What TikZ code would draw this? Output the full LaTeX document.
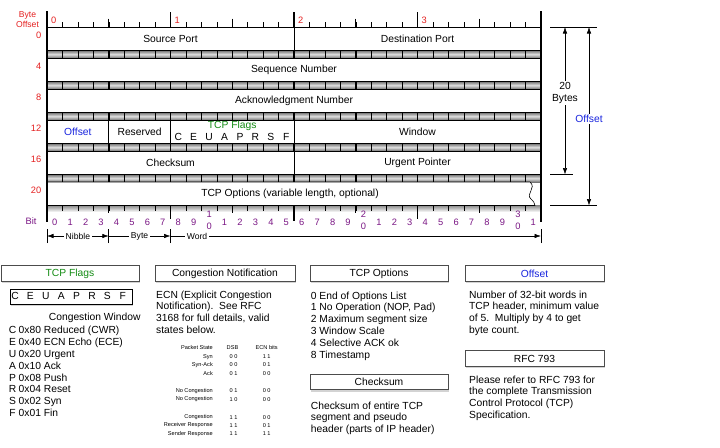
\documentclass[tikz,border=0pt]{standalone}
\usepackage{fontspec}
\setmainfont{Liberation Sans}
\usetikzlibrary{arrows.meta,shadows}

\definecolor{hdrred}{RGB}{228,32,32}
\definecolor{hdrblue}{RGB}{24,36,222}
\definecolor{hdrgreen}{RGB}{20,140,20}
\definecolor{bitpurple}{RGB}{122,22,132}

\newcommand{\fieldfnt}{\fontsize{10.3}{11.8}\selectfont}
\newcommand{\rulerfnt}{\fontsize{9.3}{10}\selectfont}
\newcommand{\dimfnt}{\fontsize{8.6}{9.5}\selectfont}
\newcommand{\tblfnt}{\fontsize{5.6}{6}\selectfont}

\tikzset{
  field/.style={draw, fill=white, line width=0.6pt, minimum height=23.5, inner sep=0pt, outer sep=0pt, font=\fieldfnt},
  txt/.style={inner sep=0pt, font=\fieldfnt, text height=7.4pt, text depth=2.1pt},
  bytenum/.style={inner sep=0pt, font=\rulerfnt, text=hdrred},
  bitnum/.style={inner sep=0pt, font=\rulerfnt, text=bitpurple, align=center},
  panelhead/.style={draw=black!70, fill=white, line width=0.7pt, minimum height=15.5, inner sep=0pt, font=\fieldfnt,
    drop shadow={shadow xshift=0.6pt, shadow yshift=-2.2pt, opacity=0.35}},
  paneltext/.style={anchor=north west, inner sep=0pt, align=left, font=\fieldfnt},
  tbl/.style={inner sep=0pt, font=\tblfnt},
  dimline/.style={line width=0.6pt},
  dimarrow/.style={line width=0.6pt, {Latex[length=6.5pt,width=4.5pt]}-{Latex[length=6.5pt,width=4.5pt]}},
  endarrow/.style={line width=0.6pt, -{Latex[length=6.5pt,width=4.5pt]}},
  band/.style={top color=black!55, bottom color=black!55, middle color=black!12},
}

\begin{document}
\begin{tikzpicture}[x=1pt,y=-1pt]
\useasboundingbox (0,0) rectangle (720,447);

% shaded bands between the rows
\foreach \k in {0,...,4}{
  \shade[band] (47,{50.5+31*\k}) rectangle (541,{58+31*\k});
  \foreach \i in {1,...,31} \draw[line width=0.5pt] ({47+\i*15.4375},{50.5+31*\k}) -- ++(0,7.5);
  \foreach \i in {4,8,...,28} \draw[line width=1.3pt] ({47+\i*15.4375},{50.5+31*\k}) -- ++(0,7.5);
}
\shade[top color=black!45, bottom color=white] (47,205.5) rectangle (541,212);

% header fields
\node[field, minimum width=247] (srcport) at (170.5,38.75) {Source Port};
\node[field, minimum width=247] (dstport) at (417.5,38.75) {Destination Port};
\node[field, minimum width=494] (seqnum) at (294,69.75) {Sequence Number};
\node[field, minimum width=494] (acknum) at (294,100.75) {Acknowledgment Number};
\node[field, minimum width=61.75] (offset) at (77.875,131.75) {\color{hdrblue}Offset};
\node[field, minimum width=61.75] (reserved) at (139.625,131.75) {Reserved};
\node[field, minimum width=123.5] (flags) at (232.25,131.75) {};
\node[field, minimum width=247] (window) at (417.5,131.75) {Window};
\node[field, minimum width=247] (checksum) at (170.5,162.75) {Checksum};
\node[field, minimum width=247] (urgent) at (417.5,162.75) {Urgent Pointer};
\draw[line width=0.6pt, fill=white] (47,182) -- (530,182) .. controls (537,188) and (525,194) .. (531,199)
  .. controls (534,202) .. (535,205.5) -- (47,205.5) -- cycle;
\node[txt] (options) at (290,193.75) {TCP Options (variable length, optional)};

\node[txt, text=hdrgreen] (flagstitle) at (232.25,126) {TCP Flags};
\foreach \fl [count=\i from 0] in {C,E,U,A,P,R,S,F}
  \node[txt] (rowflag\i) at ({170.5+(\i+0.5)*15.4375},137.5) {\fl};

% top ruler
\foreach \i in {1,...,31} \draw[line width=0.5pt] ({47+\i*15.4375},22) -- ({47+\i*15.4375},27);
\foreach \i in {4,12,20,28} \draw[line width=1.2pt] ({47+\i*15.4375},18.5) -- ({47+\i*15.4375},27);
\foreach \i in {8,24} \draw[line width=1.8pt] ({47+\i*15.4375},12) -- ({47+\i*15.4375},27);
\draw[line width=2.2pt] (294,12) -- (294,27);
\foreach \j in {0,...,3}
  \node[bytenum, anchor=west] (byte\j) at ({51+123.5*\j},20) {\j};

% bottom ruler
\foreach \i in {1,...,31} \draw[line width=0.5pt] ({47+\i*15.4375},205.5) -- ({47+\i*15.4375},210.5);
\foreach \i in {4,12,20,28} \draw[line width=1.2pt] ({47+\i*15.4375},205.5) -- ({47+\i*15.4375},212.5);
\foreach \i in {8,24} \draw[line width=1.8pt] ({47+\i*15.4375},205.5) -- ({47+\i*15.4375},219);
\draw[line width=2.2pt] (294,205.5) -- (294,221);
\draw[line width=2.2pt] (47,11) -- (47,222);
\draw[line width=2.2pt] (541,11) -- (541,222);

\foreach \i in {0,...,31}{
  \pgfmathtruncatemacro\dg{mod(\i,10)}
  \pgfmathtruncatemacro\tn{\i/10}
  \ifnum\dg=0 \ifnum\i>0
    \node[bitnum] (bit\i) at ({47+(\i+0.5)*15.4375},220) {\tn\\[2pt]0};
  \else
    \node[bitnum] (bit\i) at ({47+(\i+0.5)*15.4375},222) {\dg};
  \fi\else
    \node[bitnum] (bit\i) at ({47+(\i+0.5)*15.4375},222) {\dg};
  \fi
}
\node[bitnum] (bitlabel) at (31,221) {Bit};

% byte offsets
\node[bytenum, align=center, font=\dimfnt] (byteofs) at (27.5,19.5) {Byte\\Offset};
\foreach \o [count=\k from 0] in {0,4,8,12,16,20}
  \node[bytenum, anchor=east] (ofs\o) at (41.5,{35+31*\k}) {\o};

% nibble / byte / word
\foreach \x [count=\n] in {47,108.75,170.5,541}
  \coordinate (unit\n) at (\x,236);
\foreach \n in {1,...,4}
  \draw[dimline] ([yshift=-7pt]unit\n) -- ([yshift=7pt]unit\n);
\draw[dimarrow] (unit1) -- (unit2);
\draw[endarrow] (unit2) -- (unit3);
\draw[endarrow] (unit3) -- (unit4);
\node[fill=white, inner sep=1.5pt, font=\dimfnt] (nibble) at (77.9,236) {Nibble};
\node[fill=white, inner sep=1.5pt, font=\dimfnt] (byte) at (139.6,236) {Byte};
\node[fill=white, inner sep=1.5pt, font=\dimfnt] (word) at (197,236) {Word};

% size markers on the right
\coordinate (hdrtop) at (550,27);
\coordinate (hdrend) at (550,174.5);
\coordinate (optend) at (550,205.5);
\draw[dimline] (hdrtop) -- ++(47,0);
\draw[dimline] (hdrend) -- ++(23,0);
\draw[dimline] (optend) -- ++(47,0);
\draw[dimarrow] ([xshift=15pt]hdrtop) -- ([xshift=15pt]hdrend);
\draw[dimarrow] ([xshift=39pt]hdrtop) -- ([xshift=39pt]optend);
\node[fill=white, inner sep=1.5pt, align=center, font=\fieldfnt] (twenty) at (565,93) {20\\Bytes};
\node[fill=white, inner sep=1.5pt, font=\fieldfnt, text=hdrblue] (ofsdim) at (589,119) {Offset};

% TCP Flags panel
\node[panelhead, minimum width=138] (flagshead) at (70,273.5) {\color{hdrgreen}TCP Flags};
\node[draw, fill=white, line width=1pt, minimum width=122, minimum height=15, inner sep=0pt,
  drop shadow={shadow xshift=0.6pt, shadow yshift=-1.8pt, opacity=0.35}] (flagbox) at (71,296.5) {};
\foreach \fl [count=\i from 0] in {C,E,U,A,P,R,S,F}
  \node[txt] (boxflag\i) at ({15+15.4*\i},296.5) {\fl};
\node[txt] (cwnd) at (94.7,318) {Congestion Window};
\foreach \fl/\hx/\ds [count=\k from 0] in {C/0x80/Reduced (CWR), E/0x40/ECN Echo (ECE), U/0x20/Urgent,
    A/0x10/Ack, P/0x08/Push, R/0x04/Reset, S/0x02/Syn, F/0x01/Fin}{
  \node[txt] (flagL\k) at (12.5,{331+11.86*\k}) {\fl};
  \node[txt, anchor=west] (flagD\k) at (18.5,{331+11.86*\k}) {\hx\ \ds};
}

% Congestion Notification panel
\node[panelhead, minimum width=140] (ecnhead) at (225,273.5) {Congestion Notification};
\node[paneltext] (ecntext) at (156,290.5) {ECN (Explicit Congestion\\Notification).\ \ See RFC\\3168 for full details, valid\\states below.};
\node[tbl, anchor=east] (pkthead) at (213,347.5) {Packet State};
\node[tbl] (dsbhead) at (232.5,347.5) {DSB};
\node[tbl] (ecnbits) at (266.7,347.5) {ECN bits};
\foreach \st/\dsb/\ecn/\y [count=\r] in {Syn/0 0/1 1/356.7, Syn-Ack/0 0/0 1/365, Ack/0 1/0 0/373.3,
    No Congestion/0 1/0 0/391, No Congestion/1 0/0 0/399.3,
    Congestion/1 1/0 0/417.3, Receiver Response/1 1/0 1/425.5, Sender Response/1 1/1 1/433.7}{
  \node[tbl, anchor=east] (state\r) at (213,\y) {\st};
  \node[tbl] (dsb\r) at (233.5,\y) {\dsb};
  \node[tbl] (ecn\r) at (266.7,\y) {\ecn};
}

% TCP Options and Checksum panels
\node[panelhead, minimum width=138] (opthead) at (379,273.5) {TCP Options};
\node[paneltext] (opttext) at (310.7,291.5) {0 End of Options List\\1 No Operation (NOP, Pad)\\2 Maximum segment size\\3 Window Scale\\4 Selective ACK ok\\8 Timestamp};
\node[panelhead, minimum width=138] (chkhead) at (379,382) {Checksum};
\node[paneltext] (chktext) at (310.7,401.5) {Checksum of entire TCP\\segment and pseudo\\header (parts of IP header)};

% Offset and RFC panels
\node[panelhead, minimum width=139] (ofshead) at (534.5,273.5) {\color{hdrblue}Offset};
\node[paneltext] (ofstext) at (469,290.5) {Number of 32-bit words in\\TCP header, minimum value\\of 5.\ \ Multiply by 4 to get\\byte count.};
\node[panelhead, minimum width=139] (rfchead) at (534.5,358.5) {RFC 793};
\node[paneltext] (rfctext) at (469,375.5) {Please refer to RFC 793 for\\the complete Transmission\\Control Protocol (TCP)\\Specification.};
\end{tikzpicture}
\end{document}
